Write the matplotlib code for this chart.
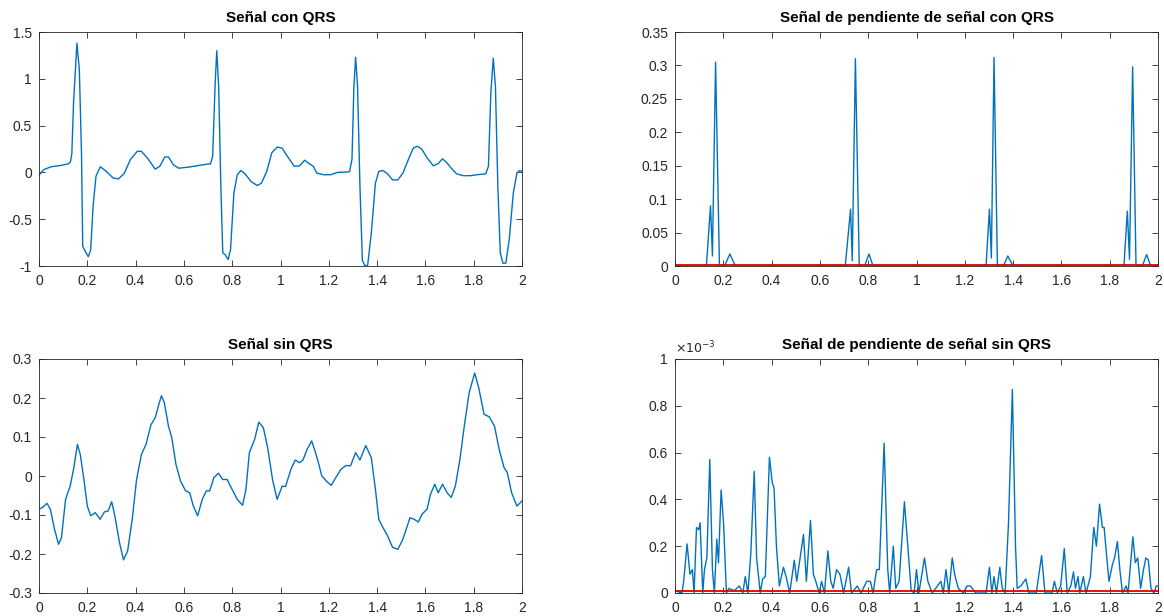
import matplotlib
matplotlib.use('Agg')
import matplotlib.pyplot as plt
from matplotlib.ticker import FormatStrFormatter, MultipleLocator

plt.rcParams['font.family'] = ['Liberation Sans', 'DejaVu Sans']
plt.rcParams['axes.unicode_minus'] = False

# --- datos ---
# señal con QRS
t_con = [0, 0.02, 0.05, 0.08, 0.12, 0.13, 0.136, 0.143, 0.157, 0.167, 0.176, 0.181,
         0.193, 0.204, 0.214, 0.224, 0.236, 0.254, 0.279, 0.307, 0.329, 0.353, 0.379,
         0.407, 0.424, 0.45, 0.481, 0.5, 0.521, 0.536, 0.557, 0.579, 0.621, 0.664,
         0.7, 0.71, 0.719, 0.729, 0.736, 0.744, 0.753, 0.761, 0.771, 0.783, 0.793,
         0.807, 0.821, 0.836, 0.853, 0.879, 0.904, 0.921, 0.943, 0.964, 0.986, 1.007,
         1.029, 1.057, 1.079, 1.1, 1.121, 1.136, 1.15, 1.179, 1.207, 1.236, 1.279,
         1.286, 1.296, 1.304, 1.311, 1.319, 1.329, 1.339, 1.35, 1.361, 1.376, 1.393,
         1.407, 1.424, 1.443, 1.464, 1.486, 1.507, 1.529, 1.55, 1.567, 1.586, 1.607,
         1.633, 1.653, 1.671, 1.69, 1.707, 1.729, 1.757, 1.786, 1.814, 1.85, 1.861,
         1.871, 1.881, 1.89, 1.9, 1.91, 1.921, 1.933, 1.947, 1.964, 1.979, 1.99, 2.0]
v_con = [-0.03, 0.03, 0.06, 0.07, 0.09, 0.11, 0.2, 0.74, 1.38, 1.1, 0.2, -0.79,
         -0.85, -0.9, -0.83, -0.36, -0.04, 0.06, 0.01, -0.06, -0.07, -0.01, 0.14,
         0.225, 0.225, 0.15, 0.035, 0.065, 0.165, 0.165, 0.08, 0.045, 0.057, 0.075,
         0.09, 0.09, 0.17, 0.92, 1.3, 0.92, -0.15, -0.86, -0.88, -0.93, -0.83,
         -0.22, -0.025, 0.02, -0.015, -0.1, -0.14, -0.115, 0.01, 0.21, 0.27, 0.26,
         0.17, 0.065, 0.07, 0.13, 0.09, 0.065, -0.007, -0.025, -0.025, 0.0, 0.005,
         0.01, 0.14, 0.92, 1.23, 0.92, -0.15, -0.94, -1.0, -0.99, -0.65, -0.115,
         0.01, 0.02, -0.015, -0.08, -0.08, -0.007, 0.135, 0.26, 0.28, 0.245, 0.155,
         0.07, 0.095, 0.145, 0.1, 0.045, -0.015, -0.035, -0.035, -0.025, -0.015, 0.065,
         0.85, 1.22, 0.92, -0.15, -0.86, -0.97, -0.97, -0.72, -0.22, -0.007, 0.02, 0.01]

# pendiente de la señal con QRS
t_pend_con = [0, 0.13, 0.147, 0.155, 0.168, 0.184, 0.205, 0.227, 0.25,
              0.705, 0.727, 0.734, 0.747, 0.763, 0.785, 0.803, 0.82,
              1.288, 1.302, 1.31, 1.321, 1.335, 1.36, 1.378, 1.40,
              1.859, 1.873, 1.882, 1.895, 1.909, 1.935, 1.953, 1.97, 2.0]
v_pend_con = [0, 0, 0.09, 0.015, 0.305, 0, 0, 0.018, 0,
              0, 0.085, 0.008, 0.31, 0, 0, 0.018, 0,
              0, 0.085, 0.012, 0.312, 0, 0, 0.015, 0,
              0, 0.082, 0.01, 0.298, 0, 0, 0.017, 0, 0]
umbral_con = 0.002

# señal sin QRS
t_sin = [0, 0.014, 0.033, 0.047, 0.064, 0.081, 0.093, 0.11, 0.129, 0.143, 0.159,
         0.171, 0.186, 0.2, 0.214, 0.233, 0.253, 0.271, 0.286, 0.301, 0.314, 0.333,
         0.35, 0.367, 0.386, 0.404, 0.424, 0.443, 0.464, 0.481, 0.496, 0.507, 0.519,
         0.536, 0.55, 0.567, 0.586, 0.607, 0.624, 0.639, 0.657, 0.676, 0.693, 0.707,
         0.724, 0.743, 0.761, 0.779, 0.796, 0.821, 0.843, 0.857, 0.871, 0.893, 0.91,
         0.929, 0.947, 0.967, 0.986, 1.007, 1.021, 1.043, 1.061, 1.079, 1.093, 1.11,
         1.129, 1.143, 1.157, 1.171, 1.193, 1.21, 1.229, 1.25, 1.271, 1.29, 1.311,
         1.329, 1.353, 1.376, 1.393, 1.407, 1.424, 1.443, 1.464, 1.486, 1.504, 1.521,
         1.536, 1.553, 1.571, 1.586, 1.607, 1.621, 1.639, 1.653, 1.671, 1.69, 1.707,
         1.724, 1.743, 1.761, 1.781, 1.804, 1.821, 1.843, 1.864, 1.886, 1.907, 1.926,
         1.939, 1.957, 1.979, 2.0]
v_sin = [-0.085, -0.081, -0.07, -0.085, -0.136, -0.175, -0.158, -0.06, -0.026, 0.017,
         0.081, 0.055, -0.009, -0.077, -0.102, -0.094, -0.111, -0.092, -0.09, -0.066,
         -0.102, -0.17, -0.215, -0.192, -0.111, -0.009, 0.055, 0.081, 0.132, 0.149,
         0.183, 0.206, 0.188, 0.128, 0.098, 0.03, -0.013, -0.038, -0.043, -0.077,
         -0.102, -0.06, -0.038, -0.038, -0.004, 0.007, -0.009, -0.009, -0.03, -0.06,
         -0.075, -0.034, 0.06, 0.094, 0.138, 0.124, 0.072, -0.009, -0.06, -0.026,
         -0.027, 0.017, 0.041, 0.034, 0.041, 0.068, 0.09, 0.064, 0.034, 0.0, -0.015,
         -0.024, -0.004, 0.017, 0.027, 0.026, 0.06, 0.041, 0.078, 0.047, -0.034,
         -0.111, -0.132, -0.153, -0.183, -0.188, -0.166, -0.136, -0.107, -0.111,
         -0.118, -0.098, -0.085, -0.047, -0.021, -0.043, -0.021, -0.043, -0.055,
         -0.026, 0.043, 0.128, 0.213, 0.264, 0.226, 0.158, 0.152, 0.128, 0.064, 0.021,
         0.009, -0.043, -0.077, -0.064]

# pendiente de la señal sin QRS (x 1e-3)
t_pend_sin = [0, 0.029, 0.036, 0.05, 0.062, 0.072, 0.079, 0.089, 0.098, 0.104, 0.115,
              0.122, 0.132, 0.144, 0.155, 0.163, 0.173, 0.18, 0.191, 0.201, 0.213,
              0.223, 0.245, 0.266, 0.281, 0.291, 0.302, 0.314, 0.328, 0.338, 0.353,
              0.363, 0.374, 0.391, 0.403, 0.41, 0.42, 0.432, 0.449, 0.46, 0.475, 0.494,
              0.504, 0.518, 0.532, 0.544, 0.561, 0.573, 0.583, 0.597, 0.607, 0.619,
              0.633, 0.645, 0.655, 0.669, 0.683, 0.698, 0.719, 0.731, 0.755, 0.77,
              0.794, 0.809, 0.82, 0.835, 0.846, 0.866, 0.881, 0.889, 0.904, 0.914,
              0.928, 0.95, 0.964, 0.978, 0.99, 1.0, 1.01, 1.033, 1.047, 1.065, 1.101,
              1.111, 1.122, 1.134, 1.148, 1.158, 1.173, 1.194, 1.209, 1.223, 1.245,
              1.266, 1.288, 1.302, 1.312, 1.321, 1.331, 1.345, 1.355, 1.367, 1.381,
              1.397, 1.41, 1.417, 1.432, 1.453, 1.465, 1.496, 1.518, 1.532, 1.561,
              1.571, 1.583, 1.597, 1.612, 1.624, 1.639, 1.65, 1.658, 1.669, 1.676,
              1.691, 1.702, 1.72, 1.734, 1.745, 1.758, 1.77, 1.777, 1.788, 1.797,
              1.811, 1.82, 1.832, 1.842, 1.853, 1.868, 1.876, 1.896, 1.906, 1.916,
              1.928, 1.94, 1.95, 1.96, 1.971, 1.983, 1.993, 2.0]
v_pend_sin = [0.01, 0, 0.05, 0.21, 0.08, 0.1, 0, 0.28, 0.27, 0.3, 0,
              0.1, 0.15, 0.57, 0.1, 0, 0.23, 0.13, 0.44, 0.3, 0,
              0.02, 0.01, 0.03, 0, 0.07, 0, 0.17, 0.52, 0.15, 0,
              0.06, 0.07, 0.58, 0.47, 0.45, 0.2, 0.03, 0.11, 0.07, 0, 0.14,
              0.05, 0.15, 0.25, 0.05, 0.31, 0.08, 0.05, 0, 0.05, 0,
              0.18, 0.05, 0.02, 0.1, 0.08, 0, 0.11, 0, 0.03, 0,
              0.05, 0.05, 0, 0.1, 0.1, 0.64, 0.1, 0, 0.2, 0.02,
              0.05, 0.39, 0.2, 0.01, 0, 0.1, 0, 0.15, 0.05, 0, 0.05,
              0, 0.1, 0, 0.15, 0.08, 0.02, 0, 0.03, 0.03, 0,
              0, 0, 0.11, 0, 0.07, 0, 0.11, 0.02, 0, 0.3,
              0.87, 0.2, 0.02, 0.03, 0.06, 0, 0, 0.16, 0, 0,
              0.05, 0, 0.03, 0.19, 0, 0.03, 0.09, 0.02, 0.07, 0,
              0.07, 0, 0.07, 0.28, 0.2, 0.38, 0.28, 0.28, 0.15, 0.05,
              0.12, 0.15, 0.22, 0.1, 0, 0.03, 0, 0.24, 0.13, 0.15,
              0.02, 0.1, 0.15, 0.14, 0.02, 0, 0.03, 0.03]
umbral_sin = 0.01

azul = '#0072BD'
gris = '#262626'

fig = plt.figure(figsize=(11.64, 6.16), dpi=100)
W, H = 1164.0, 616.0


def caja(x0, y0, x1, y1):
    # pixeles -> fraccion de figura
    return [x0 / W, 1 - y1 / H, (x1 - x0) / W, (y1 - y0) / H]


def estilo(ax, titulo, ylim, ystep):
    ax.set_xlim(0, 2)
    ax.set_ylim(*ylim)
    ax.xaxis.set_major_locator(MultipleLocator(0.2))
    ax.yaxis.set_major_locator(MultipleLocator(ystep))
    ax.xaxis.set_major_formatter(FormatStrFormatter('%g'))
    ax.yaxis.set_major_formatter(FormatStrFormatter('%g'))
    ax.tick_params(direction='in', top=True, right=True, length=4, width=0.6,
                   labelsize=10, colors=gris)
    ax.tick_params(axis='x', pad=6)
    ax.tick_params(axis='y', pad=5)
    for s in ax.spines.values():
        s.set_color(gris)
        s.set_linewidth(0.6)
    ax.set_title(titulo, fontsize=11, fontweight='bold', color='black', pad=7)


ax1 = fig.add_axes(caja(39, 32, 522, 266))
ax1.plot(t_con, v_con, color=azul, lw=1.0)
estilo(ax1, 'Señal con QRS', (-1, 1.5), 0.5)

ax2 = fig.add_axes(caja(675, 32, 1158, 266))
ax2.plot(t_pend_con, v_pend_con, color=azul, lw=1.0)
ax2.plot([0, 2], [umbral_con, umbral_con], color='#e00000', lw=1.3)
estilo(ax2, 'Señal de pendiente de señal con QRS', (0, 0.35), 0.05)

ax3 = fig.add_axes(caja(39, 359, 522, 593))
ax3.plot(t_sin, v_sin, color=azul, lw=1.0)
estilo(ax3, 'Señal sin QRS', (-0.3, 0.3), 0.1)

ax4 = fig.add_axes(caja(675, 359, 1158, 593))
ax4.plot(t_pend_sin, v_pend_sin, color=azul, lw=1.0)
ax4.plot([0, 2], [umbral_sin, umbral_sin], color='#e00000', lw=1.3)
estilo(ax4, 'Señal de pendiente de señal sin QRS', (0, 1), 0.2)
ax4.text(0.0, 1.01, r'$\times 10^{-3}$', transform=ax4.transAxes, fontsize=9,
         color=gris, ha='left', va='bottom')

fig.savefig('out.png', dpi=100)
